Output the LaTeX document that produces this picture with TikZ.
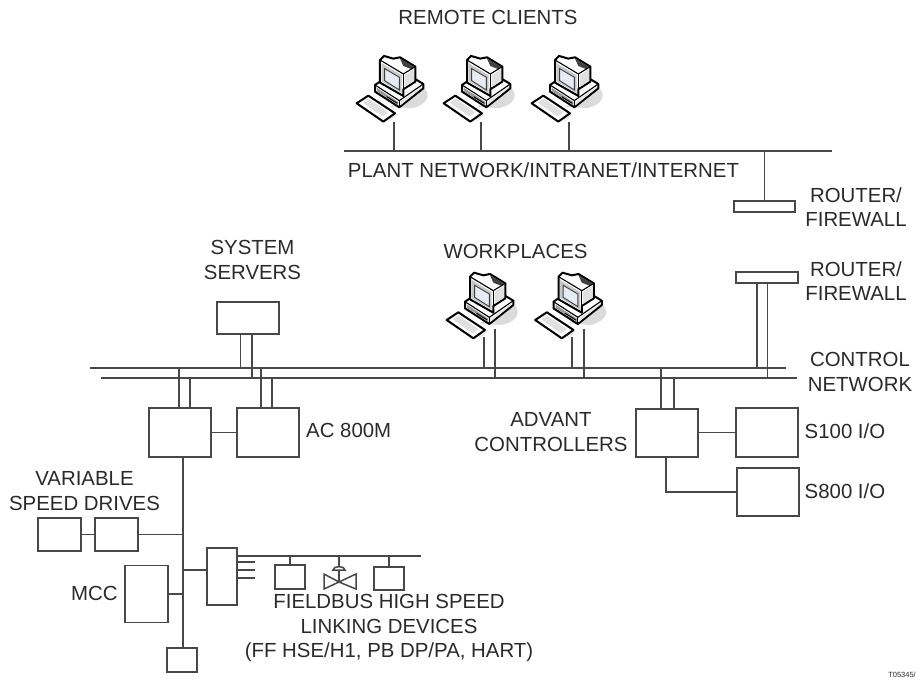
\documentclass[tikz,border=0pt]{standalone}
\usepackage{fontspec}
\setmainfont{Liberation Sans}
\definecolor{ln}{HTML}{484848}
\definecolor{tx}{HTML}{2A2A2A}
\definecolor{scr}{HTML}{E6ECF6}
\tikzset{
  x=1pt,y=-1pt,
  wire/.style={draw=ln,line width=1.5pt},
  bx/.style={draw=ln,line width=1.5pt,fill=white,inner sep=0pt,rectangle},
  lbl/.style={text=tx,font=\fontsize{20.4}{24.5}\selectfont,align=center,inner sep=0pt},
  pcicon/.pic={
    \begin{scope}[x=0.3333pt,y=-0.3333pt]
      % soft shadow
      \fill[black!14] (150,190) -- (215,195) .. controls (265,185) and (278,150) .. (245,128) -- (190,160) -- cycle;
      \fill[black!8] (140,215) -- (175,212) -- (150,235) -- cycle;
      % keyboard
      \draw[black,line width=2pt,line join=round,fill=white] (50,180) -- (85,157) -- (165,210) -- (130,235) -- cycle;
      \fill[black!12] (68,178) -- (86,166) -- (145,207) -- (128,220) -- cycle;
      % base
      \draw[black,line width=2pt,line join=round,fill=white] (105,125) -- (150,95) -- (205,95) -- (250,122) -- (250,135) -- (178,192) -- (105,145) -- cycle;
      \fill[black!40] (111,134) -- (175,176) -- (175,186) -- (111,144) -- cycle;
      \fill[black!10] (181,176) -- (245,130) -- (245,134) -- (181,186) -- cycle;
      \draw[black,line width=1.1pt] (105,125) -- (178,172) -- (250,122);
      \draw[black,line width=1.1pt] (178,172) -- (178,192);
      \draw[black,line width=.9pt] (140,160) -- (172,180);
      % monitor
      \draw[black,line width=2pt,line join=round,fill=white] (120,50) -- (132,38) -- (160,46) -- (180,42) -- (226,70) -- (226,115) -- (190,138) -- (190,158) -- (120,118) -- cycle;
      \fill[black!75] (180,46) -- (222,70) -- (215,78) -- (190,68) -- cycle;
      \fill[black!12] (194,96) -- (222,78) -- (222,113) -- (194,131) -- cycle;
      \draw[black,line width=1.1pt] (120,50) -- (190,92) -- (226,70);
      \draw[black,line width=1.1pt] (190,92) -- (190,158);
      \fill[black!22] (125,60) -- (185,96) -- (185,150) -- (125,114) -- cycle;
      \draw[black!75,line width=.9pt,fill=scr] (134,76) -- (178,102) -- (178,140) -- (134,112) -- cycle;
    \end{scope}
  }
}
\begin{document}
\begin{tikzpicture}
\useasboundingbox (0,0) rectangle (916,680);
% --- buses and their ends
\coordinate (pA) at (344,151); \coordinate (pB) at (832,151);
\coordinate (cA) at (90,368);  \coordinate (cB) at (786,368);
\coordinate (nA) at (101,378); \coordinate (nB) at (797,378);
\coordinate (fA) at (237,556); \coordinate (fB) at (421,556);
\draw[wire] (pA) -- (pB);
\draw[wire] (cA) -- (cB);
\draw[wire] (nA) -- (nB);
\draw[wire] (fA) -- (fB);
% --- computers
\pic at (340,43.3) {pcicon};
\pic at (427,43.3) {pcicon};
\pic at (515,43.3) {pcicon};
\pic at (430,260) {pcicon};
\pic at (518.5,260) {pcicon};
\coordinate (r1) at (394,122); \coordinate (r2) at (481,122); \coordinate (r3) at (569,122);
\draw[wire] (r1) -- (r1 |- pA);
\draw[wire] (r2) -- (r2 |- pA);
\draw[wire] (r3) -- (r3 |- pA);
\coordinate (w1a) at (484,337); \coordinate (w1b) at (495,329);
\coordinate (w2a) at (572,337); \coordinate (w2b) at (584,329);
\draw[wire] (w1a) -- (w1a |- cA);
\draw[wire] (w1b) -- (w1b |- nA);
\draw[wire] (w2a) -- (w2a |- cA);
\draw[wire] (w2b) -- (w2b |- nA);
% --- boxes
\node[bx,minimum width=61pt,minimum height=11pt] (rt1) at (764.5,206.5) {};
\node[bx,minimum width=62pt,minimum height=11pt] (rt2) at (767,277.5) {};
\node[bx,minimum width=62pt,minimum height=32pt] (srv) at (248,318) {};
\node[bx,minimum width=62pt,minimum height=49pt] (c1) at (180,432.5) {};
\node[bx,minimum width=62pt,minimum height=49pt] (c2) at (268,432.5) {};
\node[bx,minimum width=62pt,minimum height=48pt] (adv) at (667,433) {};
\node[bx,minimum width=62pt,minimum height=49pt] (s100) at (767,432.5) {};
\node[bx,minimum width=62pt,minimum height=48pt] (s800) at (768,492) {};
\node[bx,minimum width=43pt,minimum height=33pt] (d1) at (59.5,534.5) {};
\node[bx,minimum width=43pt,minimum height=33pt] (d2) at (116.5,534.5) {};
\node[bx,minimum width=43pt,minimum height=57pt] (mcc) at (146.5,594) {};
\node[bx,minimum width=30pt,minimum height=57pt] (ld) at (222,576.5) {};
\node[bx,minimum width=30pt,minimum height=24pt] (low) at (182,660) {};
\node[bx,minimum width=30pt,minimum height=24pt] (f1) at (290,577) {};
\node[bx,minimum width=30pt,minimum height=23pt] (f2) at (389,578.5) {};
% --- connectors
\draw[wire] (rt1.north) -- (rt1.north |- pA);
\coordinate (rv1) at (757,283); \coordinate (rv2) at (767.5,283);
\draw[wire] (rv1) -- (rv1 |- cA);
\draw[wire] (rv2) -- (rv2 |- nA);
\coordinate (sv1) at (240.5,334); \coordinate (sv2) at (252,334);
\draw[wire] (sv1) -- (sv1 |- cA);
\draw[wire] (sv2) -- (sv2 |- nA);
\coordinate (a1) at (179,408); \coordinate (a2) at (190,408);
\coordinate (b1) at (261,408); \coordinate (b2) at (272,408);
\coordinate (e1) at (661,409); \coordinate (e2) at (674,409);
\draw[wire] (a1) -- (a1 |- cA);
\draw[wire] (a2) -- (a2 |- nA);
\draw[wire] (b1) -- (b1 |- cA);
\draw[wire] (b2) -- (b2 |- nA);
\draw[wire] (e1) -- (e1 |- cA);
\draw[wire] (e2) -- (e2 |- nA);
\draw[wire] (c1.east) -- (c2.west);
\draw[wire] (adv.east |- s100.west) -- (s100.west);
\coordinate (advdn) at (666,457);
\draw[wire] (advdn) |- (s800.west);
% trunk
\coordinate (trT) at (183,457);
\draw[wire] (trT) -- (trT |- low.north);
\draw[wire] (d1.east) -- (d2.west);
\draw[wire] (d2.east) -- (d2.east -| trT);
\draw[wire] (mcc.east) -- (mcc.east -| trT);
\coordinate (ldj) at (207,570);
\draw[wire] (ldj) -- (ldj -| trT);
% stubs from linking device
\coordinate (st1) at (237,562); \coordinate (st2) at (237,570); \coordinate (st3) at (237,578);
\draw[wire] (st1) -- ++(18,0);
\draw[wire] (st2) -- ++(18,0);
\draw[wire] (st3) -- ++(18,0);
% field devices
\draw[wire] (f1.north) -- (f1.north |- fA);
\draw[wire] (f2.north) -- (f2.north |- fA);
\coordinate (vc) at (339,582);
\draw[wire] (vc) -- (vc |- fA);
\draw[wire,fill=white] (vc) -- (324,574) -- (324,589) -- cycle;
\draw[wire,fill=white] (vc) -- (356,574) -- (356,589) -- cycle;
\draw[wire,fill=white] (333,570) .. controls (333,565.5) and (345,565.5) .. (345,570) -- cycle;
% --- labels
\node[lbl] (tRemote) at (488,17.5) {REMOTE CLIENTS};
\node[lbl] (tPlant) at (543.5,170) {PLANT NETWORK/INTRANET/INTERNET};
\node[lbl] (tR1) at (856,207) {ROUTER/\\FIREWALL};
\node[lbl] (tR2) at (856,281) {ROUTER/\\FIREWALL};
\node[lbl] (tCtl) at (860,372) {CONTROL\\NETWORK};
\node[lbl] (tSrv) at (252.5,260) {SYSTEM\\SERVERS};
\node[lbl] (tWork) at (515.5,251) {WORKPLACES};
\node[lbl,anchor=west] (tAC) at (306,430) {AC 800M};
\node[lbl] (tVar) at (84.5,491) {VARIABLE\\SPEED DRIVES};
\node[lbl] (tAdv) at (551,432) {ADVANT\\CONTROLLERS};
\node[lbl,anchor=west] (tS1) at (804.5,431) {S100 I/O};
\node[lbl,anchor=west] (tS8) at (804.5,491) {S800 I/O};
\node[lbl,anchor=west] (tMCC) at (71,593) {MCC};
\node[lbl] (tFb) at (389,628) {FIELDBUS HIGH SPEED\\LINKING DEVICES\\(FF HSE/H1, PB DP/PA, HART)};
\node[text=tx,font=\fontsize{7.5}{9}\selectfont,inner sep=0pt,anchor=east] (tId) at (916,675) {T05345/};
\end{tikzpicture}
\end{document}
